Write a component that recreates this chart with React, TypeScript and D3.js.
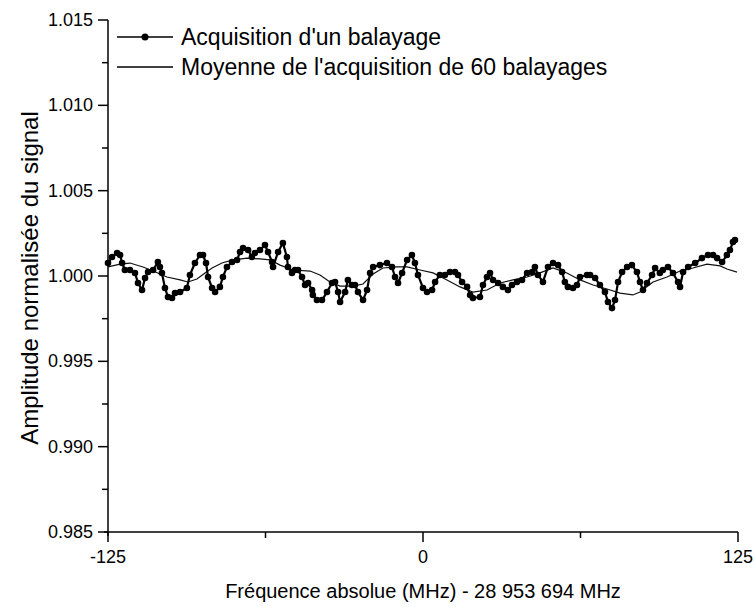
import React from 'react';
import * as d3 from 'd3';

// Single sweep acquisition (MHz offset, normalised amplitude)
const freqSingle = [
  -125.0, -123.4, -121.4, -120.2, -119.4, -118.3, -116.3, -114.3, -113.1, -111.5,
  -110.3, -109.1, -107.1, -105.2, -104.4, -103.6, -102.4, -101.2, -99.6, -98.4,
  -96.4, -93.7, -92.5, -90.5, -88.5, -87.3, -86.1, -85.3, -83.7, -82.5,
  -80.6, -79.4, -77.8, -75.8, -73.8, -72.6, -71.4, -69.4, -67.9, -66.7,
  -64.7, -62.7, -61.5, -59.9, -59.5, -57.5, -55.6, -54.0, -53.6, -52.0,
  -50.8, -49.6, -48.0, -46.8, -45.6, -44.0, -43.7, -42.1, -40.1, -38.1,
  -36.1, -34.9, -33.7, -32.9, -30.9, -29.8, -28.2, -27.0, -25.8, -23.8,
  -22.2, -21.0, -19.8, -17.1, -14.3, -12.3, -11.1, -9.9, -8.3, -6.3,
  -4.4, -3.2, -2.0, 0.0, 1.6, 3.6, 4.8, 6.7, 8.7, 10.7,
  12.7, 13.9, 15.5, 17.5, 18.7, 19.8, 22.6, 23.8, 25.4, 26.6,
  27.8, 29.8, 31.7, 33.7, 35.3, 37.3, 39.3, 41.3, 43.3, 44.4,
  45.6, 47.6, 49.6, 51.6, 53.6, 55.2, 56.3, 57.5, 59.5, 61.1,
  62.3, 65.1, 66.3, 68.3, 70.2, 72.2, 73.4, 75.0, 76.2, 77.4,
  79.0, 81.0, 82.9, 84.9, 86.1, 87.3, 88.9, 90.9, 92.1, 94.0,
  95.2, 97.2, 99.2, 101.2, 102.0, 103.2, 105.2, 108.0, 110.7, 113.1,
  115.1, 116.7, 118.7, 120.6, 121.8, 123.0, 123.8
];
const ampSingle = [
  1.00076, 1.00111, 1.00135, 1.00123, 1.00076, 1.00035, 1.00035, 1.00018, 0.99959, 0.99918,
  0.99988, 1.00023, 1.00035, 1.00082, 1.00053, 1.00018, 0.99930, 0.99877, 0.99871, 0.99900,
  0.99906, 0.99930, 1.00006, 1.00076, 1.00123, 1.00123, 1.00076, 0.99994, 0.99930, 0.99906,
  0.99936, 0.99994, 1.00053, 1.00082, 1.00094, 1.00141, 1.00164, 1.00152, 1.00111, 1.00135,
  1.00152, 1.00182, 1.00141, 1.00082, 1.00053, 1.00141, 1.00193, 1.00111, 1.00053, 1.00018,
  1.00035, 1.00035, 0.99994, 0.99947, 0.99959, 0.99918, 0.99889, 0.99859, 0.99859, 0.99906,
  0.99959, 0.99965, 0.99906, 0.99848, 0.99906, 0.99977, 0.99947, 0.99947, 0.99906, 0.99859,
  0.99918, 1.00018, 1.00053, 1.00064, 1.00076, 1.00053, 0.99994, 0.99959, 1.00018, 1.00094,
  1.00123, 1.00076, 1.00006, 0.99930, 0.99906, 0.99918, 0.99965, 1.00006, 1.00006, 1.00023,
  1.00023, 1.00006, 0.99965, 0.99936, 0.99889, 0.99871, 0.99877, 0.99947, 0.99994, 1.00018,
  0.99977, 0.99959, 0.99936, 0.99918, 0.99947, 0.99965, 0.99977, 1.00018, 1.00023, 1.00053,
  1.00006, 0.99965, 1.00053, 1.00076, 1.00064, 1.00023, 0.99965, 0.99936, 0.99930, 0.99947,
  0.99994, 1.00006, 1.00006, 0.99988, 0.99947, 0.99906, 0.99848, 0.99812, 0.99859, 0.99965,
  1.00023, 1.00053, 1.00064, 1.00023, 0.99965, 0.99918, 0.99959, 1.00006, 1.00047, 1.00018,
  1.00035, 1.00053, 1.00018, 0.99965, 0.99936, 1.00023, 1.00053, 1.00076, 1.00105, 1.00123,
  1.00123, 1.00105, 1.00082, 1.00123, 1.00152, 1.00199, 1.00211
];

// Average of 60 sweeps
const freqMean = [
  -125.0, -120.2, -116.3, -111.1, -107.1, -101.6, -96.4, -93.3, -89.7, -86.5,
  -83.7, -79.8, -75.4, -69.8, -64.7, -60.7, -56.7, -51.6, -44.8, -40.9,
  -36.9, -32.9, -27.8, -23.8, -19.8, -15.9, -10.3, -6.3, -1.2, 4.0,
  9.5, 14.7, 19.8, 25.4, 30.6, 35.7, 41.3, 46.4, 51.6, 57.1,
  62.3, 67.5, 73.0, 78.2, 83.3, 86.1, 91.3, 96.8, 102.0, 107.1,
  112.7, 117.9, 120.6, 124.6
];
const ampMean = [
  1.00053, 1.00070, 1.00076, 1.00053, 1.00029, 0.99994, 0.99977, 0.99965, 0.99982, 1.00018,
  1.00047, 1.00076, 1.00094, 1.00105, 1.00100, 1.00094, 1.00064, 1.00035, 1.00029, 1.00006,
  0.99965, 0.99941, 0.99941, 0.99953, 1.00012, 1.00047, 1.00053, 1.00053, 1.00035, 1.00018,
  0.99977, 0.99936, 0.99906, 0.99918, 0.99959, 0.99977, 0.99994, 1.00018, 1.00047, 1.00018,
  0.99977, 0.99947, 0.99924, 0.99900, 0.99889, 0.99906, 0.99965, 0.99994, 1.00029, 1.00047,
  1.00070, 1.00059, 1.00041, 1.00023
];

const xTicks = [-125, 0, 125];
const xMinorTicks = [-62.5, 62.5];
const yTicks = [0.985, 0.99, 0.995, 1.0, 1.005, 1.01, 1.015];
const yMinorTicks = [0.9875, 0.9925, 0.9975, 1.0025, 1.0075, 1.0125];
const legendLabels = ["Acquisition d'un balayage", "Moyenne de l'acquisition de 60 balayages"];
const xTitle = 'Fréquence absolue (MHz) - 28 953 694 MHz';
const yTitle = 'Amplitude normalisée du signal';

const W = 755;
const H = 607;
const FONT = 'Arial, "Liberation Sans", Helvetica, sans-serif';

export default function App() {
  const x = d3.scaleLinear().domain([-125, 125]).range([108, 738]);
  const y = d3.scaleLinear().domain([0.985, 1.015]).range([532, 20]);

  const single = freqSingle.map((f, i) => [f, ampSingle[i]] as [number, number]);
  const mean = freqMean.map((f, i) => [f, ampMean[i]] as [number, number]);

  const line = d3
    .line<[number, number]>()
    .x((d) => x(d[0]))
    .y((d) => y(d[1]));

  const x0 = x.range()[0];
  const x1 = x.range()[1];
  const y0 = y.range()[0];
  const y1 = y.range()[1];
  const fmt = d3.format('.3f');

  return (
    <svg
      width={W}
      height={H}
      style={{ position: 'absolute', left: 0, top: 0, background: '#fff' }}
      fontFamily={FONT}
    >
      <rect x={0} y={0} width={W} height={H} fill="#fff" />

      {/* mean line */}
      <path d={line(mean) || ''} fill="none" stroke="#111" strokeWidth={1.2} />

      {/* single sweep */}
      <path d={line(single) || ''} fill="none" stroke="#000" strokeWidth={2.2} strokeLinejoin="round" />
      {single.map((d, i) => (
        <circle key={i} cx={x(d[0])} cy={y(d[1])} r={3.3} fill="#000" />
      ))}

      {/* Y axis */}
      <line x1={x0} x2={x0} y1={y1} y2={y0 + 4} stroke="#000" strokeWidth={1.5} />
      {yTicks.map((t) => (
        <g key={'yt' + t}>
          <line x1={x0 - 10} x2={x0} y1={y(t)} y2={y(t)} stroke="#000" strokeWidth={1.5} />
          <text
            x={x0 - 15}
            y={y(t)}
            textAnchor="end"
            dominantBaseline="central"
            fontSize={18}
            fill="#000"
          >
            {fmt(t)}
          </text>
        </g>
      ))}
      {yMinorTicks.map((t) => (
        <line key={'ym' + t} x1={x0 - 6} x2={x0} y1={y(t)} y2={y(t)} stroke="#000" strokeWidth={1.5} />
      ))}

      {/* X axis */}
      <line x1={x0 - 4} x2={x1} y1={y0} y2={y0} stroke="#000" strokeWidth={1.5} />
      {xTicks.map((t) => (
        <g key={'xt' + t}>
          <line x1={x(t)} x2={x(t)} y1={y0} y2={y0 + 10} stroke="#000" strokeWidth={1.5} />
          <text
            x={x(t)}
            y={y0 + 25}
            textAnchor="middle"
            dominantBaseline="central"
            fontSize={18}
            fill="#000"
          >
            {String(t)}
          </text>
        </g>
      ))}
      {xMinorTicks.map((t) => (
        <line key={'xm' + t} x1={x(t)} x2={x(t)} y1={y0} y2={y0 + 6} stroke="#000" strokeWidth={1.5} />
      ))}

      {/* axis titles */}
      <text
        x={(x0 + x1) / 2}
        y={591}
        textAnchor="middle"
        dominantBaseline="central"
        fontSize={20}
        fill="#000"
      >
        {xTitle}
      </text>
      <text
        transform={`translate(29, ${(y0 + y1) / 2 + 2}) rotate(-90)`}
        textAnchor="middle"
        dominantBaseline="central"
        fontSize={24}
        fill="#000"
      >
        {yTitle}
      </text>

      {/* legend */}
      <line x1={117} x2={173} y1={37} y2={37} stroke="#000" strokeWidth={1.5} />
      <circle cx={145} cy={37} r={3.5} fill="#000" />
      <text x={181} y={37} dominantBaseline="central" fontSize={23} fill="#000">
        {legendLabels[0]}
      </text>
      <line x1={117} x2={173} y1={67} y2={67} stroke="#000" strokeWidth={1.5} />
      <text x={181} y={67} dominantBaseline="central" fontSize={23} fill="#000">
        {legendLabels[1]}
      </text>
    </svg>
  );
}
